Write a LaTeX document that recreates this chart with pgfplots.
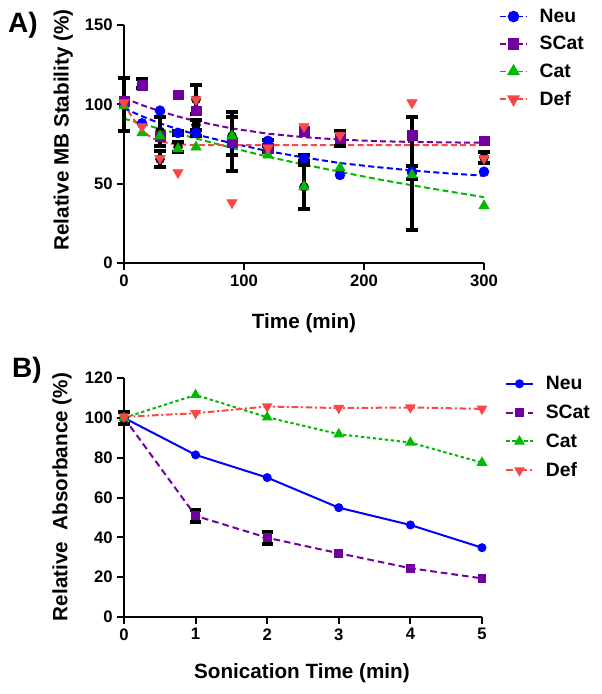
\documentclass[border=0pt]{standalone}
\usepackage{fontspec}
\setmainfont{Liberation Sans}
\usepackage{pgfplots}
\pgfplotsset{compat=1.18}
\definecolor{cNeu}{RGB}{0,0,255}
\definecolor{cSCat}{RGB}{112,0,160}
\definecolor{cCat}{RGB}{0,185,0}
\definecolor{cDef}{RGB}{250,70,70}
\pgfplotsset{gp/.style={
  scale only axis, clip=false,
  axis x line*=bottom, axis y line*=left,
  axis line style={line width=1.5pt,-},
  tick align=outside, major tick length=5pt,
  every tick/.style={black,line width=1.5pt},
  tick label style={font=\bfseries\fontsize{12.5}{14}\selectfont},
  /pgf/number format/assume math mode=true,
  label style={font=\bfseries\fontsize{15.5}{18}\selectfont},
  legend cell align=left,
  legend style={draw=none, fill=none, font=\bfseries\fontsize{14.5}{17}\selectfont, row sep=5pt, inner sep=0pt,
    /tikz/every odd column/.append style={column sep=7pt}},
  legend image code/.code={\draw[mark repeat=2,mark phase=2,##1] plot coordinates {(0pt,0pt)(10pt,0pt)(20pt,0pt)};},
},
ebar/.style={black, line width=3pt, only marks, mark=none, forget plot,
  error bars/.cd, y dir=both, y explicit,
  error bar style={black, solid, line width=3pt},
  error mark options={black, solid, rotate=90, mark size=4.2pt, line width=3pt}},
}
\begin{document}
\begin{tikzpicture}
\path[use as bounding box] (0pt,0pt) rectangle (450.75pt,520.5pt);
% ---------------- Panel A ----------------
\begin{axis}[gp, at={(93pt,323.25pt)}, anchor=south west,
  width=270pt, height=178.5pt,
  xmin=0, xmax=300, ymin=0, ymax=150,
  xtick={0,100,200,300}, ytick={0,50,100,150},
  xlabel={Time (min)}, ylabel={Relative MB Stability (\%)},
  x label style={at={(axis description cs:0.5,-0.252)}, anchor=center},
  y label style={at={(axis description cs:-0.169,0.559)}, anchor=center},
  legend style={at={(axis description cs:1.042,1.08)}, anchor=north west},
]
% fitted curves
\addplot[cNeu, line width=1.5pt, dash pattern=on 4.5pt off 2.5pt, forget plot] coordinates {
 (0,97.5)(15,92.5)(30,88)(45,84.3)(60,81)(90,75.5)(120,70.5)(150,66.5)(180,63)(210,60.5)(240,58.3)(270,56.5)(300,55)};
\addplot[cSCat, line width=1.5pt, dash pattern=on 4.5pt off 2.5pt, forget plot] coordinates {
 (0,104)(15,99.5)(30,95.7)(45,92.3)(60,89.4)(90,84.8)(120,81.5)(150,79.3)(180,77.8)(210,76.8)(240,76.3)(270,76)(300,75.8)};
\addplot[cCat, line width=1.5pt, dash pattern=on 4.5pt off 2.5pt, forget plot] coordinates {
 (0,91)(30,84.5)(60,78.5)(90,72.5)(120,67)(150,62)(180,57.5)(210,53)(240,49)(270,45.2)(300,41.5)};
\addplot[cDef, line width=1.5pt, dash pattern=on 4.5pt off 2.5pt, forget plot] coordinates {
 (0,101)(5,94)(10,88.5)(15,84)(20,80.5)(25,78.2)(30,76.7)(40,75.2)(50,74.6)(60,74.4)(90,74.3)(300,74.3)};
% error bars
\addplot[ebar] coordinates {
 (0,100) +- (0,16.5)
 (15,113) +- (0,3)
 (30,83) +- (0,9)
 (30,65.5) +- (0,5)
 (45,82) +- (0,1.5)
 (45,73) +- (0,3)
 (60,103) +- (0,9)
 (60,87) +- (0,3)
 (60,82) +- (0,2)
 (90,76.5) +- (0,18.5)
 (90,80) +- (0,12)
 (120,72) +- (0,2)
 (120,76) +- (0,1.5)
 (150,48) +- (0,14)
 (150,66) +- (0,2)
 (180,78.5) +- (0,5)
 (240,56.5) +- (0,35.5)
 (240,57) +- (0,4)
 (300,66.5) +- (0,3.5)
};
% data points
\addplot[only marks, cNeu, mark=*, mark size=3.75pt, forget plot] coordinates {
 (0,100)(15,88)(30,96)(45,82)(60,82)(90,75)(120,77)(150,66)(180,55.5)(240,57.5)(300,57.5)};
\addplot[only marks, cSCat, mark=square*, mark size=3.6pt, forget plot] coordinates {
 (0,102)(15,112)(30,80)(45,106)(60,96)(90,76)(120,72)(150,83)(180,78.5)(240,80.5)(300,77)};
\addplot[only marks, cCat, mark=triangle*, mark size=4.5pt, forget plot] coordinates {
 (0,99)(15,82)(30,80)(45,72)(60,73)(90,80)(120,68)(150,48)(180,60)(240,55.5)(300,36)};
\addplot[only marks, cDef, mark=triangle*, mark size=4.5pt, mark options={rotate=180}, forget plot] coordinates {
 (0,101)(15,86)(30,66)(45,57)(60,103)(90,38)(120,72.5)(150,86)(180,80.5)(240,101)(300,66)};
\addlegendimage{cNeu, line width=1.2pt, dash pattern=on 4pt off 2.5pt, mark=*, mark size=3.75pt, mark options={solid}}
\addlegendentry{Neu}
\addlegendimage{cSCat, line width=1.2pt, dash pattern=on 4pt off 2.5pt, mark=square*, mark size=3.6pt, mark options={solid}}
\addlegendentry{SCat}
\addlegendimage{cCat, line width=1.2pt, dash pattern=on 4pt off 2.5pt, mark=triangle*, mark size=4.5pt, mark options={solid}}
\addlegendentry{Cat}
\addlegendimage{cDef, line width=1.2pt, dash pattern=on 4pt off 2.5pt, mark=triangle*, mark size=4.5pt, mark options={solid, rotate=180}}
\addlegendentry{Def}
\end{axis}
% ---------------- Panel B ----------------
\begin{axis}[gp, at={(93pt,57.75pt)}, anchor=south west,
  width=268.5pt, height=179.25pt,
  xmin=0, xmax=5, ymin=0, ymax=120,
  xtick={0,1,2,3,4,5}, ytick={0,20,40,60,80,100,120},
  xlabel={Sonication Time (min)}, ylabel={Relative\ \ Absorbance (\%)},
  x label style={at={(axis description cs:0.497,-0.234)}, anchor=center},
  y label style={at={(axis description cs:-0.173,0.502)}, anchor=center},
  legend style={row sep=6pt, at={(axis description cs:1.064,1.02)}, anchor=north west},
]
\addplot[ebar] coordinates {
 (0,100) +- (0,3)
 (1,50.8) +- (0,3)
 (2,39.8) +- (0,3)
};
\addplot[cNeu, line width=1.5pt, mark=*, mark size=2.6pt] coordinates {
 (0,100)(1,81.4)(2,70)(3,54.9)(4,46.2)(5,34.8)};
\addlegendentry{Neu}
\addplot[cSCat, line width=1.5pt, dash pattern=on 5pt off 3pt, mark=square*, mark size=2.6pt, mark options={solid}] coordinates {
 (0,100)(1,50.8)(2,39.8)(3,32)(4,24.5)(5,19.4)};
\addlegendentry{SCat}
\addplot[cCat, line width=1.5pt, dash pattern=on 2.5pt off 2pt, mark=triangle*, mark size=3.2pt, mark options={solid}] coordinates {
 (0,100)(1,111.5)(2,100.3)(3,91.8)(4,87.6)(5,77.5)};
\addlegendentry{Cat}
\addplot[cDef, line width=1.5pt, dash pattern=on 5pt off 2pt on 1.5pt off 2pt, mark=triangle*, mark size=3.2pt, mark options={solid, rotate=180}] coordinates {
 (0,100.5)(1,102.3)(2,105.7)(3,104.9)(4,105.2)(5,104.5)};
\addlegendentry{Def}
\end{axis}
\node[font=\bfseries\fontsize{21}{24}\selectfont] at (17.25pt,501.75pt) {A)};
\node[font=\bfseries\fontsize{21}{24}\selectfont] at (20.25pt,243pt) {B)};
\end{tikzpicture}
\end{document}
